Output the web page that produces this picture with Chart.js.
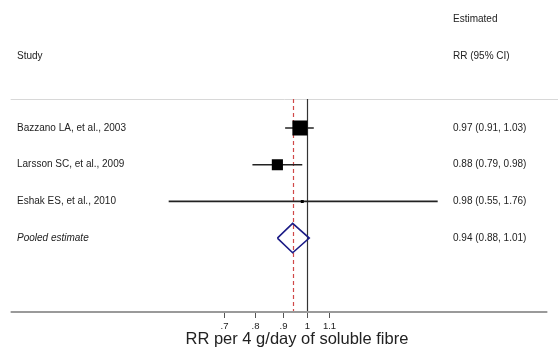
<!DOCTYPE html>
<html>
<head>
<meta charset="utf-8">
<script src="https://cdn.jsdelivr.net/npm/chart.js@4"></script>
<style>
  html, body { margin: 0; padding: 0; background: #fff; }
  #wrap { width: 558px; height: 349px; }
</style>
</head>
<body>
<div id="wrap"><canvas id="forest" width="558" height="349"></canvas></div>
<script>
// Dados do forest plot
const estudos = ["Bazzano LA, et al., 2003", "Larsson SC, et al., 2009", "Eshak ES, et al., 2010"];
const rr = [0.97, 0.88, 0.98];
const icInf = [0.91, 0.79, 0.55];
const icSup = [1.03, 0.98, 1.76];
const pesos = [63, 34.5, 2.5];
const rotuloCombinado = "Pooled estimate";
const rrCombinado = 0.94;
const icCombinado = [0.88, 1.01];
const textosIC = ["0.97 (0.91, 1.03)", "0.88 (0.79, 0.98)", "0.98 (0.55, 1.76)", "0.94 (0.88, 1.01)"];
const ticksX = [0.7, 0.8, 0.9, 1, 1.1];
const tituloX = "RR per 4 g/day of soluble fibre";

const fonte = '"Liberation Sans", Arial, sans-serif';
const linhaCombinado = estudos.length;

// Linhas dos intervalos de confiança
const datasetsIC = estudos.map((nome, i) => ({
    type: 'scatter',
    showLine: true,
    data: [{ x: icInf[i], y: i }, { x: icSup[i], y: i }],
    borderColor: '#222',
    borderWidth: 1.6,
    pointRadius: 0,
    order: 2
}));

// Caixas (área proporcional ao peso)
const datasetCaixas = {
    type: 'scatter',
    data: rr.map((v, i) => ({ x: v, y: i })),
    pointStyle: 'rect',
    pointRadius: pesos.map(w => Math.sqrt(w) * 1.34),
    backgroundColor: '#000',
    borderColor: '#000',
    borderWidth: 0,
    order: 0
};

// Diamante da estimativa combinada
const meiaAltura = 0.4;
const datasetDiamante = {
    type: 'scatter',
    showLine: true,
    data: [
        { x: icCombinado[0], y: linhaCombinado },
        { x: rrCombinado, y: linhaCombinado - meiaAltura },
        { x: icCombinado[1], y: linhaCombinado },
        { x: rrCombinado, y: linhaCombinado + meiaAltura },
        { x: icCombinado[0], y: linhaCombinado }
    ],
    borderColor: '#1c1c86',
    borderWidth: 1.6,
    pointRadius: 0,
    order: 1
};

const pluginForest = {
    id: 'pluginForest',
    beforeDatasetsDraw(chart) {
        const { ctx, chartArea, scales } = chart;
        const x = scales.x;
        ctx.save();
        // linha separadora superior
        ctx.strokeStyle = '#d8d8d8';
        ctx.lineWidth = 1;
        ctx.beginPath();
        ctx.moveTo(chartArea.left, chartArea.top + 0.5);
        ctx.lineTo(chart.width, chartArea.top + 0.5);
        ctx.stroke();
        // linha de nulidade (RR = 1)
        const x1 = Math.round(x.getPixelForValue(1)) + 0.5;
        ctx.strokeStyle = '#333';
        ctx.lineWidth = 1.2;
        ctx.beginPath();
        ctx.moveTo(x1, chartArea.top);
        ctx.lineTo(x1, chartArea.bottom);
        ctx.stroke();
        // linha tracejada no RR combinado
        const xc = Math.round(x.getPixelForValue(rrCombinado)) + 0.5;
        ctx.strokeStyle = '#d04848';
        ctx.lineWidth = 1.2;
        ctx.setLineDash([4, 3]);
        ctx.beginPath();
        ctx.moveTo(xc, chartArea.top);
        ctx.lineTo(xc, chartArea.bottom);
        ctx.stroke();
        ctx.restore();
    },
    afterDraw(chart) {
        const { ctx, chartArea, scales } = chart;
        const x = scales.x, y = scales.y;
        ctx.save();
        // eixo x
        ctx.strokeStyle = '#9a9a9a';
        ctx.lineWidth = 2;
        ctx.beginPath();
        ctx.moveTo(chartArea.left, chartArea.bottom);
        ctx.lineTo(chartArea.right, chartArea.bottom);
        ctx.stroke();
        ctx.strokeStyle = '#555';
        ctx.lineWidth = 1;
        ctx.fillStyle = '#222';
        ctx.font = '9.5px ' + fonte;
        ctx.textAlign = 'center';
        ctx.textBaseline = 'middle';
        ticksX.forEach(t => {
            const px = Math.round(x.getPixelForValue(t)) + 0.5;
            ctx.beginPath();
            ctx.moveTo(px, chartArea.bottom + 1);
            ctx.lineTo(px, chartArea.bottom + 6);
            ctx.stroke();
            const txt = t < 1 ? String(t).replace('0.', '.') : String(t);
            ctx.fillText(txt, px, chartArea.bottom + 14);
        });
        ctx.font = '16.5px ' + fonte;
        ctx.fillText(tituloX, x.getPixelForValue(1) - 10, chartArea.bottom + 27);

        // textos das colunas
        ctx.textAlign = 'left';
        ctx.fillStyle = '#222';
        ctx.font = '10px ' + fonte;
        ctx.fillText("Study", 17, 56);
        ctx.fillText("Estimated", 453, 19);
        ctx.fillText("RR (95% CI)", 453, 56);
        estudos.forEach((nome, i) => {
            ctx.fillText(nome, 17, y.getPixelForValue(i));
        });
        textosIC.forEach((t, i) => {
            ctx.fillText(t, 453, y.getPixelForValue(i));
        });
        ctx.font = 'italic 10px ' + fonte;
        ctx.fillText(rotuloCombinado, 17, y.getPixelForValue(linhaCombinado));
        ctx.restore();
    }
};

new Chart(document.getElementById('forest'), {
    data: { datasets: [...datasetsIC, datasetCaixas, datasetDiamante] },
    options: {
        responsive: false,
        animation: false,
        layout: { padding: { left: 10, right: 10, top: 99, bottom: 37 } },
        plugins: { legend: { display: false }, tooltip: { enabled: false } },
        scales: {
            x: { type: 'logarithmic', min: 0.2777, max: 2.828, display: false },
            y: { type: 'linear', min: -0.79, max: 5.014, reverse: true, display: false }
        }
    },
    plugins: [pluginForest]
});
</script>
</body>
</html>
